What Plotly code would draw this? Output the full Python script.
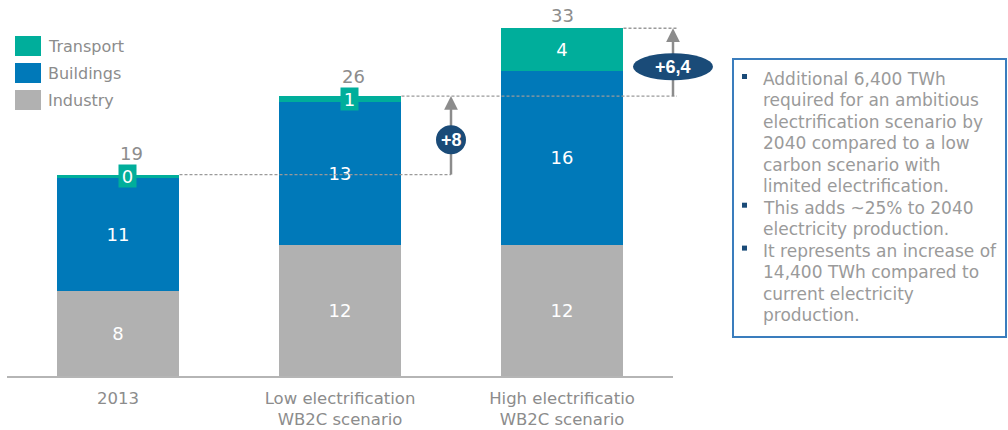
import plotly.graph_objects as go

# ---- data -------------------------------------------------------------
categories = ["2013", "Low electrification<br>WB2C scenario", "High electrificatio<br>WB2C scenario"]
industry = [8.0, 12.4, 12.4]
buildings = [10.7, 13.4, 16.4]
transport = [0.3, 0.6, 4.0]
series_names = ["Transport", "Buildings", "Industry"]
delta_labels = ["+8", "+6,4"]
note_bullets = [
    ["Additional 6,400 TWh", "required for an ambitious", "electrification scenario by",
     "2040 compared to a low", "carbon scenario with", "limited electrification."],
    ["This adds ~25% to 2040", "electricity production."],
    ["It represents an increase of", "14,400 TWh compared to", "current electricity",
     "production."],
]

# ---- styling ----------------------------------------------------------
C_IND = "#b1b1b1"
C_BLD = "#0079b9"
C_TRN = "#00ae9b"
C_NAVY = "#1a4b78"
C_TEXT = "#8c8c8c"
C_NOTE = "#9a9a9a"
C_ARROW = "#8c8c8c"
FONT = "DejaVu Sans"

W, H = 1008, 430
ML, MR, MT, MB = 7, 0, 6, 54
PW, PH = W - ML - MR, H - MT - MB
Y_MAX = 34.9
PX_PER_UNIT = PH / Y_MAX
X_DOM = 666 / PW
BARGAP = 0.446
HALF = (1 - BARGAP) / 2
SMALL = 1.5  # segments thinner than this get a boxed label


def px_x(px):
    return (px - ML) / PW


def px_y(py):
    return 1 - (py - MT) / PH


def cat_x(pos):
    return X_DOM * (pos + 0.5) / 3


totals = [a + b + c for a, b, c in zip(industry, buildings, transport)]

fig = go.Figure()
txt_font = dict(family=FONT, size=18, color="white")
fig.add_trace(go.Bar(x=categories, y=industry, name="Industry", marker_color=C_IND,
                     text=[f"{v:.0f}" for v in industry]))
fig.add_trace(go.Bar(x=categories, y=buildings, name="Buildings", marker_color=C_BLD,
                     text=[f"{v:.0f}" for v in buildings]))
fig.add_trace(go.Bar(x=categories, y=transport, name="Transport", marker_color=C_TRN,
                     text=[f"{v:.0f}" if v >= SMALL else "" for v in transport]))
fig.update_traces(textposition="inside", insidetextanchor="middle", textangle=0,
                  constraintext="none", insidetextfont=txt_font, marker_line_width=0,
                  showlegend=False, hoverinfo="skip")

shapes = []
annotations = []

for i, v in enumerate(transport):
    strip_mid = industry[i] + buildings[i] + v / 2
    if v < SMALL:
        # boxed label for a thin transport segment
        annotations.append(dict(x=cat_x(i), y=strip_mid, xref="paper", yref="y",
                                text=f"{v:.0f}", showarrow=False, bgcolor=C_TRN,
                                borderpad=0, width=17, height=22, font=txt_font))
        tot_y, tot_shift = strip_mid, 23
    else:
        tot_y, tot_shift = totals[i], 13
    # stack total above the bar
    annotations.append(dict(x=cat_x(i), y=tot_y, xref="paper", yref="y",
                            text=f"{totals[i]:.0f}", showarrow=False, yanchor="middle",
                            yshift=tot_shift,
                            font=dict(family=FONT, size=18, color=C_TEXT)))

# dashed reference lines between stack tops
dash = dict(color="#9a9a9a", width=1.3, dash="3px,2px")
x_right = cat_x(2.5) + 4 / PW
shapes += [
    dict(type="line", xref="paper", yref="y", x0=cat_x(0 + HALF), x1=cat_x(1.5),
         y0=totals[0], y1=totals[0], line=dash),
    dict(type="line", xref="paper", yref="y", x0=cat_x(1 + HALF), x1=x_right,
         y0=totals[1], y1=totals[1], line=dash),
    dict(type="line", xref="paper", yref="y", x0=cat_x(2 + HALF), x1=x_right,
         y0=totals[2], y1=totals[2], line=dash),
]

# difference arrows with callout badges
steps = [(1.5, totals[0], totals[1], 15, 14.5), (2.5, totals[1], totals[2], 40, 13.5)]
for (pos, lo, hi, rx, ry), label in zip(steps, delta_labels):
    xp = cat_x(pos)
    mid = (lo + hi) / 2
    shapes.append(dict(type="line", xref="paper", yref="y", x0=xp, x1=xp, y0=lo,
                       y1=hi - 4 / PX_PER_UNIT, line=dict(color=C_ARROW, width=2.5)))
    shapes.append(dict(type="circle", xref="paper", yref="y", xsizemode="pixel",
                       ysizemode="pixel", xanchor=xp, yanchor=mid, x0=-rx, x1=rx,
                       y0=-ry - 4.5, y1=ry - 4.5, fillcolor=C_NAVY, line_width=0))
    annotations.append(dict(x=xp, y=hi, xref="paper", yref="y", ax=0, ay=14,
                            axref="pixel", ayref="pixel", text="", showarrow=True,
                            arrowhead=2, arrowsize=1.1, arrowwidth=2.5,
                            arrowcolor=C_ARROW, standoff=0))
    annotations.append(dict(x=xp, y=mid, xref="paper", yref="y", yshift=-4.5,
                            text=f"<b>{label}</b>", showarrow=False,
                            font=dict(family="Liberation Sans", size=18, color="white")))

# legend
legend_colors = {"Transport": C_TRN, "Buildings": C_BLD, "Industry": C_IND}
for k, name in enumerate(series_names):
    top = 36 + k * 27
    shapes.append(dict(type="rect", xref="paper", yref="paper", x0=px_x(15), x1=px_x(41),
                       y0=px_y(top + 20), y1=px_y(top), fillcolor=legend_colors[name],
                       line_width=0))
    annotations.append(dict(x=px_x(46), y=px_y(top + 10), xref="paper", yref="paper",
                            xanchor="left", yanchor="middle", text=name, showarrow=False,
                            font=dict(family=FONT, size=16, color=C_TEXT)))

# note box
shapes.append(dict(type="rect", xref="paper", yref="paper", x0=px_x(733), x1=px_x(1006),
                   y0=px_y(337), y1=px_y(59), line=dict(color="#3a7dbd", width=2),
                   fillcolor="rgba(0,0,0,0)"))
line_no = 0
for bullet in note_bullets:
    for j, text in enumerate(bullet):
        base = 85 + 21.45 * line_no
        if j == 0:
            shapes.append(dict(type="rect", xref="paper", yref="paper",
                               x0=px_x(742), x1=px_x(747), y0=px_y(base - 6),
                               y1=px_y(base - 11), fillcolor=C_NAVY, line_width=0))
        annotations.append(dict(x=px_x(761), y=px_y(base - 6), xref="paper", yref="paper",
                                xanchor="left", yanchor="middle", text=text,
                                showarrow=False,
                                font=dict(family=FONT, size=17, color=C_NOTE)))
        line_no += 1

fig.update_layout(
    width=W, height=H, margin=dict(l=ML, r=MR, t=MT, b=MB, autoexpand=False),
    barmode="stack", bargap=BARGAP,
    plot_bgcolor="white", paper_bgcolor="white",
    shapes=shapes, annotations=annotations,
    xaxis=dict(type="category", range=[-0.5, 2.5], domain=[0, X_DOM], showline=True,
               linecolor="#b5b5b5", linewidth=2, ticks="", showgrid=False,
               automargin=False, ticklabelstandoff=6,
               tickfont=dict(family=FONT, size=16.5, color=C_TEXT)),
    yaxis=dict(visible=False, range=[0, Y_MAX], showgrid=False, automargin=False),
    showlegend=False,
)

fig.write_html("out.html")
